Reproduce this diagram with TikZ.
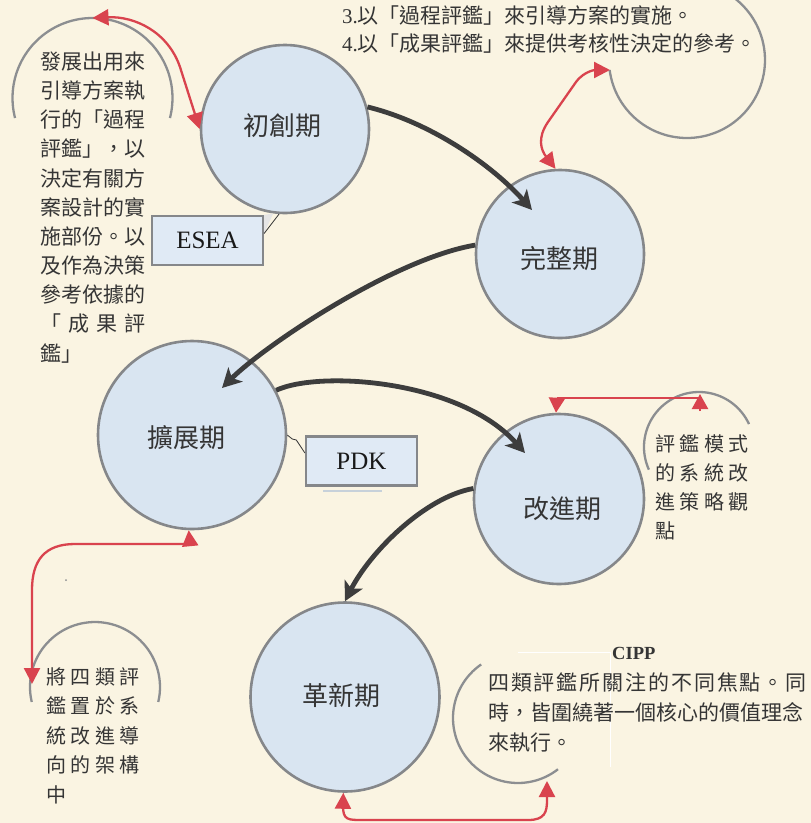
\documentclass[tikz,border=0pt]{standalone}
\usepackage{fontspec}
\setmainfont{Liberation Serif}
\newfontfamily\cjk{Noto Sans CJK TC}
\newfontfamily\cjkwide[LetterSpace=23]{Noto Sans CJK TC}
\newfontfamily\cjkmid[LetterSpace=9]{Noto Sans CJK TC}
\usetikzlibrary{arrows.meta}
\definecolor{bg}{HTML}{FAF4E2}
\definecolor{cfill}{HTML}{D9E5F1}
\definecolor{cborder}{HTML}{85878A}
\definecolor{arcg}{HTML}{8C8E91}
\definecolor{redc}{HTML}{D9434E}
\definecolor{darkc}{HTML}{3D3D3D}
\definecolor{textc}{HTML}{353535}
\definecolor{boxfill}{HTML}{E0EAF5}
\tikzset{
  phase/.style={circle, fill=cfill, draw=cborder, line width=2.6pt, inner sep=0pt},
  ptxt/.style={inner sep=0pt, text=textc, font=\cjk\fontsize{26pt}{26pt}\selectfont},
  lbox/.style={rectangle, fill=boxfill, draw=cborder, line width=2.2pt, inner sep=0pt,
     minimum width=111pt, minimum height=49pt, text=black!90, font=\fontsize{25pt}{25pt}\selectfont},
  arcline/.style={draw=arcg, line width=2.3pt},
  flow/.style={draw=darkc, line width=4.8pt, -{Stealth[length=19pt,width=20pt,inset=5pt]}},
  redline/.style={draw=redc, line width=2.3pt},
  rboth/.style={redline, {Triangle[length=16pt,width=16pt]}-{Triangle[length=16pt,width=16pt]}},
  rend/.style={redline, -{Triangle[length=15pt,width=16pt]}},
  txt/.style={inner sep=0pt, anchor=base west, text=textc, font=\fontsize{21pt}{21pt}\selectfont},
  cjktxt/.style={txt, font=\cjk\fontsize{21pt}{21pt}\selectfont},
  widetxt/.style={txt, font=\cjkwide\fontsize{20pt}{20pt}\selectfont},
  thinconn/.style={draw=black!80, line width=0.8pt}
}
\begin{document}
\begin{tikzpicture}[x=1pt,y=-1pt]
\clip (0,0) rectangle (811,823);
\fill[bg] (0,0) rectangle (811,823);

% gray annotation arcs
\draw[arcline, domain=-194.5:14.5, samples=80, smooth] plot ({92.5+80*cos(\x)},{98+80*sin(\x)});
\draw[arcline, domain=-52:172.6, samples=80, smooth] plot ({687+78*cos(\x)},{60+78*sin(\x)});
\draw[arcline, domain=155.7:335.4, samples=60, smooth] plot ({699+55*cos(\x)},{447+55*sin(\x)});
\draw[arcline, domain=-193.3:13.3, samples=60, smooth] plot ({95+65*cos(\x)},{687+65*sin(\x)});
\draw[arcline, domain=-308:-124.5, samples=60, smooth] plot ({518+65*cos(\x)},{718+65*sin(\x)});

% white artefact lines
\draw[white, line width=1pt] (518,652) -- (610,652) -- (610,767);
\fill[arcg] (66,580) circle[radius=1pt];

% phases
\node[phase, minimum size=168pt] (c1) at (285,129) {};
\node[phase, minimum size=168pt] (c2) at (560,254) {};
\node[phase, minimum size=188pt] (c3) at (192,435) {};
\node[phase, minimum size=170pt] (c4) at (559,499) {};
\node[phase, minimum size=189pt] (c5) at (345,697) {};

\node[ptxt] (t1) at (282.5,126) {初創期};
\node[ptxt] (t2) at (559,259) {完整期};
\node[ptxt] (t3) at (186.5,437.5) {擴展期};
\node[ptxt] (t4) at (562.5,509) {改進期};
\node[ptxt] (t5) at (341,696) {革新期};

% labelled boxes
\node[lbox] (esea) at (207.5,240.5) {ESEA};
\node[lbox] (pdk) at (361.5,461) {PDK};
\fill[black!10] (esea.north east) -- (c1.262) -- ([yshift=7pt]esea.east) -- cycle;
\draw[thinconn] ([yshift=7pt]esea.east) -- (c1.266);
\draw[thinconn] (c3.east) -- ++(5,4) -- ++(4,1) -- ++(4,6) -- ([yshift=8pt]pdk.west);
\draw[draw=cfill!80!gray, line width=1.5pt] (323,491) -- (382,491);

% main flow arrows
\draw[flow] (c1.15) .. controls (430,122) and (492,165) .. ([shift={(-28,-44)}]c2.center);
\draw[flow] (c2.174) .. controls (393,259) and (264,346) .. ([shift={(30,-47)}]c3.center);
\draw[flow] (c3.28) .. controls (320,370) and (460,380) .. ([shift={(-34,-46)}]c4.center);
\draw[flow] (c4.173) .. controls (425,497) and (370,552) .. (c5.north);

% red arrows
\coordinate (a1top) at (92.5,18);
\draw[rboth] (a1top) .. controls (135,16) and (168,32) .. (180,67) -- (c1.west);
\coordinate (a2end) at (610,70);
\draw[rboth] (c2.93) .. controls (541,150) and (537,138) .. (548,122) -- (576,82) .. controls (585,70) and (597,70) .. (a2end);
\coordinate (r3a) at (557,398);
\coordinate (r3b) at (700,398);
\coordinate (a3top) at (700,394);
\draw[rend] (r3a) -- (c4.92);
\draw[redline] (r3a) -- (r3b);
\draw[rend] (700,411) -- (a3top);
\coordinate (a4end) at (32,684);
\draw[rboth] (c3.268) -- (190,544) -- (75,544) .. controls (45,544) and (32,560) .. (32,590) -- (a4end);
\coordinate (a5end) at (547,781);
\draw[rboth] (c5.269) -- (343,806) .. controls (343,820) and (348,820) .. (362,820) -- (528,820) .. controls (545,820) and (547,812) .. (547,800) -- (a5end);

% texts
\node[txt] (n3) at (342,23) {3.{\cjk 以「過程評鑑」來引導方案的實施。}};
\node[txt] (n4) at (342,51.5) {4.{\cjk 以「成果評鑑」來提供考核性決定的參考。}};

\foreach \t [count=\i from 0] in {發展出用來,引導方案執,行的「過程,評鑑」，以,決定有關方,案設計的實,施部份。以,及作為決策,參考依據的,{「\hspace{7pt}成\hspace{7pt}果\hspace{7pt}評},鑑」}
  \node[cjktxt] (L\i) at (40,{69.5+29.15*\i}) {\t};

\foreach \t [count=\i from 0] in {評鑑模式,的系統改,進策略觀,點}
  \node[widetxt] (R\i) at (655,{451+29.3*\i}) {\t};

\foreach \t [count=\i from 0] in {將四類評,鑑置於系,統改進導,向的架構,中}
  \node[widetxt] (B\i) at (46,{684.1+29.6*\i}) {\t};

\node[txt, font=\bfseries\fontsize{18.5pt}{18.5pt}\selectfont] (cipp) at (612,659) {CIPP};
\node[txt, font=\cjkmid\fontsize{21pt}{21pt}\selectfont] (C0) at (488,690) {四類評鑑所關注的不同焦點。同};
\node[cjktxt] (C1) at (488,720) {時，皆圍繞著一個核心的價值理念};
\node[cjktxt] (C2) at (488,750) {來執行。};
\end{tikzpicture}
\end{document}
